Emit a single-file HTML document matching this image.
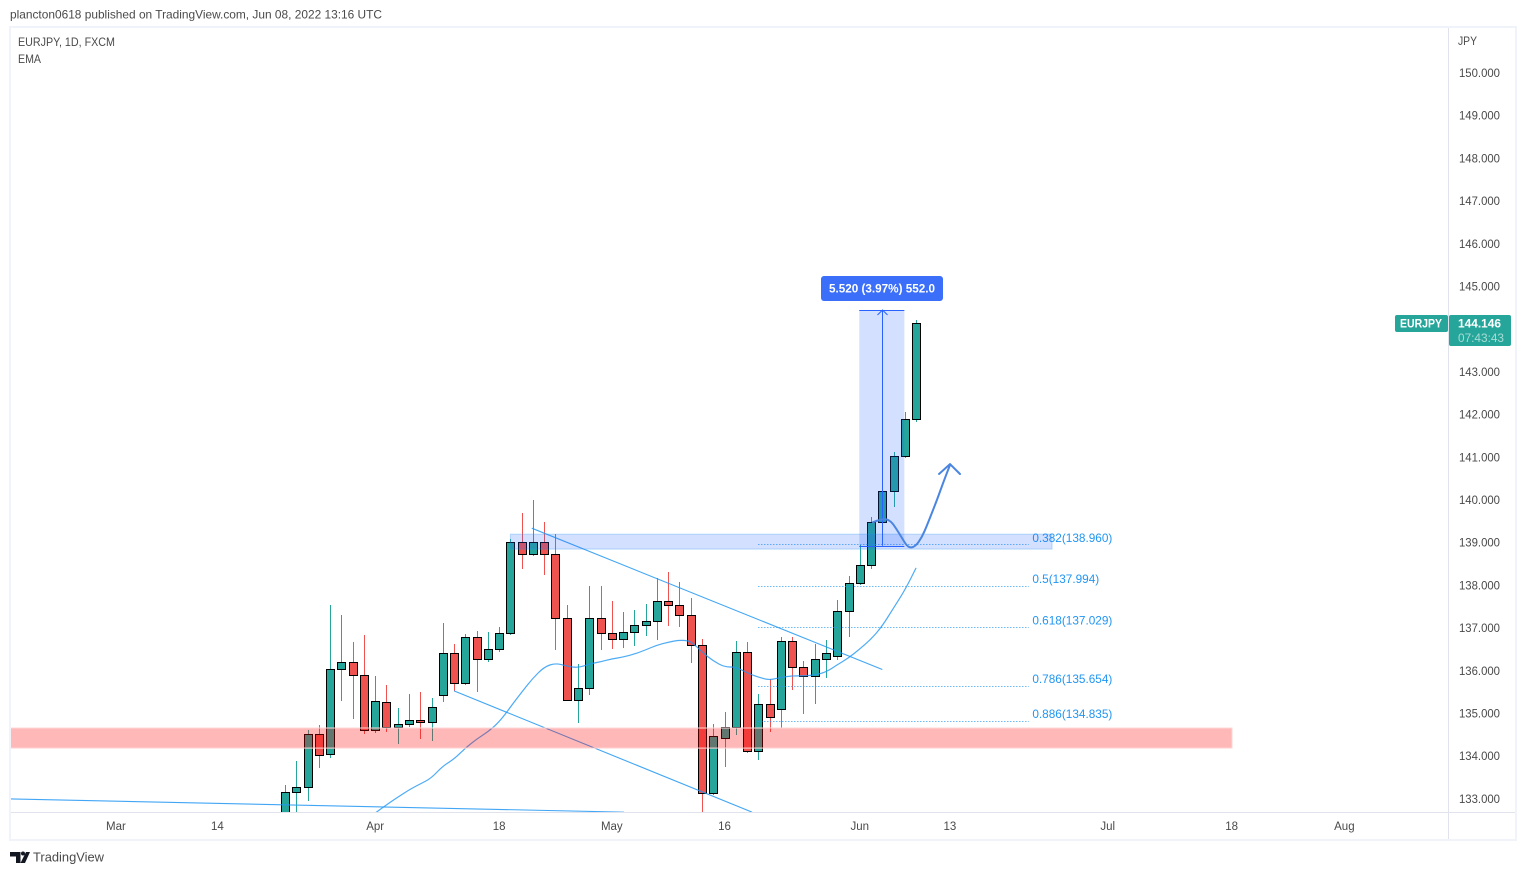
<!DOCTYPE html>
<html lang="en">
<head>
<meta charset="utf-8">
<title>EURJPY, 1D, FXCM</title>
<style>
html,body{margin:0;padding:0;background:#fff;width:1526px;height:875px;overflow:hidden}
svg{display:block;font-family:"Liberation Sans",sans-serif}
</style>
</head>
<body>
<svg id="chart" width="1526" height="875" viewBox="0 0 1526 875" xmlns="http://www.w3.org/2000/svg">
  <rect x="0" y="0" width="1526" height="875" fill="#ffffff"/>
  <text x="10" y="18.5" font-size="12" fill="#4a4a4a" textLength="372" lengthAdjust="spacingAndGlyphs">plancton0618 published on TradingView.com, Jun 08, 2022 13:16 UTC</text>
  <rect x="10" y="27" width="1506" height="813" fill="none" stroke="#f0f3fa" stroke-width="2"/>
  <defs>
    <clipPath id="plot-clip"><rect x="11" y="28" width="1437" height="784"/></clipPath>
  </defs>
  <g id="candles" clip-path="url(#plot-clip)"></g>
  <g id="drawings" clip-path="url(#plot-clip)"></g>
  <line x1="1448.5" y1="28" x2="1448.5" y2="839" stroke="#e0e3eb" stroke-width="1"/>
  <line x1="11" y1="812.5" x2="1515" y2="812.5" stroke="#e0e3eb" stroke-width="1"/>
  <g id="price-axis"></g>
  <g id="time-axis"></g>
  <text x="18" y="46" font-size="12" fill="#4a4a4a" textLength="97" lengthAdjust="spacingAndGlyphs">EURJPY, 1D, FXCM</text>
  <text x="18" y="63" font-size="12" fill="#4a4a4a" textLength="23" lengthAdjust="spacingAndGlyphs">EMA</text>
  <text x="1458" y="45" font-size="12" fill="#4a4a4a" textLength="19" lengthAdjust="spacingAndGlyphs">JPY</text>
  <g>
    <rect x="1395" y="315" width="53" height="17" rx="2" fill="#26a69a"/>
    <text x="1421" y="327.5" font-size="12" font-weight="bold" fill="#ffffff" text-anchor="middle" textLength="42" lengthAdjust="spacingAndGlyphs">EURJPY</text>
    <rect x="1449" y="315" width="62" height="31" rx="2" fill="#26a69a"/>
    <text x="1479.5" y="327.5" font-size="12" font-weight="bold" fill="#ffffff" text-anchor="middle" textLength="43" lengthAdjust="spacingAndGlyphs">144.146</text>
    <text x="1481" y="342" font-size="11.5" fill="#a8dcd6" text-anchor="middle" textLength="46" lengthAdjust="spacingAndGlyphs">07:43:43</text>
  </g>
  <g>
    <path d="M10 852h10.5v11h-4.500v-6.500h-6zM26 852h4l-5 11h-4.500z M21 853.500a2 2 0 1 0 4 0a2 2 0 1 0 -4 0z" fill="#131722"/>
    <text x="33" y="861.500" font-size="13" fill="#4a4a4a" textLength="71" lengthAdjust="spacingAndGlyphs">TradingView</text>
  </g>
</svg>
<script>
// ----- chart data -----
const dates = ["Mar 22","Mar 23","Mar 24","Mar 25","Mar 28","Mar 29","Mar 30","Mar 31","Apr 1","Apr 4","Apr 5","Apr 6","Apr 7","Apr 8","Apr 11","Apr 12","Apr 13","Apr 14","Apr 15","Apr 18","Apr 19","Apr 20","Apr 21","Apr 22","Apr 25","Apr 26","Apr 27","Apr 28","Apr 29","May 2","May 3","May 4","May 5","May 6","May 9","May 10","May 11","May 12","May 13","May 16","May 17","May 18","May 19","May 20","May 23","May 24","May 25","May 26","May 27","May 30","May 31","Jun 1","Jun 2","Jun 3","Jun 6","Jun 7","Jun 8"];
const opens = [132.55,133.15,133.28,134.52,134.05,136.04,136.21,135.90,134.61,135.27,134.68,134.75,134.85,134.80,135.43,136.42,135.71,136.79,136.28,136.51,136.89,139.02,138.74,139.02,138.74,137.24,135.32,135.60,137.24,136.89,136.74,136.91,137.07,137.17,137.63,137.54,137.31,136.60,133.14,134.43,134.68,136.44,134.12,135.22,135.11,136.70,136.09,135.88,136.28,136.35,137.40,138.06,138.48,139.49,140.21,141.03,141.90];
const highs = [133.33,133.89,134.61,134.73,137.54,137.31,136.67,136.84,135.88,135.67,135.13,135.46,135.50,135.36,137.12,136.63,136.86,136.93,136.91,137.03,139.09,139.70,140.00,139.49,139.20,137.54,136.16,137.99,137.99,137.63,137.38,137.42,137.56,138.17,138.31,138.08,137.70,136.74,134.75,135.04,136.70,136.67,135.46,135.81,136.79,136.79,136.23,136.63,136.72,137.66,138.22,138.95,139.60,140.28,141.12,142.06,144.22];
const lows = [132.27,132.51,132.95,133.72,133.96,135.29,134.87,134.52,134.54,134.57,134.29,134.68,134.40,134.36,135.27,135.53,135.67,135.50,136.21,136.44,136.84,138.38,138.69,138.24,136.49,135.32,134.78,135.43,136.49,136.51,136.53,136.58,136.82,136.72,137.05,137.03,136.18,132.69,133.09,133.75,134.50,134.08,133.91,134.57,134.66,135.55,134.99,135.22,135.83,136.25,136.79,138.01,138.38,139.41,139.84,140.98,141.83];
const closes = [133.16,133.27,134.52,134.03,136.04,136.21,135.90,134.61,135.29,134.68,134.75,134.85,134.80,135.15,136.42,135.71,136.79,136.28,136.51,136.89,139.02,138.74,139.02,138.74,137.24,135.32,135.60,137.24,136.89,136.74,136.91,137.07,137.17,137.63,137.54,137.31,136.60,133.14,134.47,134.68,136.44,134.12,135.22,134.92,136.70,136.09,135.88,136.28,136.42,137.40,138.06,138.48,139.49,140.21,141.03,141.90,144.146];
const emaStartIndex = 8;
const emaValues = [132.67,132.86,133.04,133.21,133.35,133.49,133.77,133.93,134.19,134.40,134.57,134.80,135.15,135.50,135.83,136.09,136.18,136.11,136.07,136.16,136.21,136.28,136.32,136.39,136.49,136.60,136.67,136.72,136.70,136.44,136.23,136.09,136.09,135.95,135.85,135.78,135.85,135.88,135.88,135.90,135.97,136.14,136.30,136.51,136.74,137.05,137.47,137.89,138.41];
const priceTicks = [150,149,148,147,146,145,144,143,142,141,140,139,138,137,136,135,134,133];
const timeTickLabels = ["Mar","14","Apr","18","May","16","Jun","13","Jul","18","Aug"];
const timeTickIndex = [-15,-6,8,19,29,39,51,59,73,84,94];
const fibRatios = ["0.382","0.5","0.618","0.786","0.886"];
const fibPrices = [138.960,137.994,137.029,135.654,134.835];
const fibStartIndex = 42;
const fibEndIndex = 66;
const trendStartIndex = [21.9,15,-24.4];
const trendStartPrice = [139.34,135.53,133.00];
const trendEndIndex = [53,41.44,30.08];
const trendEndPrice = [136.03,132.69,132.69];
const brushIndex = [52.17,52.97,53.68,54.21,54.75,55.28,55.9,56.52,56.97,57.85,58.39,59.01];
const brushPrice = [139.48,139.56,139.53,139.34,139.11,138.88,138.90,139.13,139.41,140.00,140.40,140.82];
const arrowHeadIndex = [58.03,59.01,59.89];
const arrowHeadPrice = [140.61,140.84,140.61];
const supportZone = {startIndex:-25, endIndex:84.03, top:134.66, bottom:134.19};
const resistanceZone = {startIndex:20, endIndex:68.06, top:139.20, bottom:138.85};
const measure = {startIndex:51, endIndex:55, top:144.45, bottom:138.93, midIndex:53, text:"5.520 (3.97%) 552.0"};

// ----- axis functions -----
const xScale = i => 285 + i * 11.27;
const yScale = p => 73 + (150 - p) * 42.7;

const NS = "http://www.w3.org/2000/svg";
function mk(tag, attrs, parent) {
  const el = document.createElementNS(NS, tag);
  for (const k in attrs) el.setAttribute(k, attrs[k]);
  parent.appendChild(el);
  return el;
}
const pts = (xs, ys) => xs.map((v, k) => xScale(v).toFixed(1) + "," + yScale(ys[k]).toFixed(1)).join(" ");
function smoothPath(xs, ys) {
  const px = xs.map(xScale), py = ys.map(yScale);
  let d = "M" + px[0].toFixed(1) + " " + py[0].toFixed(1);
  for (let k = 1; k < px.length - 1; k++) {
    const mx = (px[k] + px[k + 1]) / 2, my = (py[k] + py[k + 1]) / 2;
    d += " Q" + px[k].toFixed(1) + " " + py[k].toFixed(1) + " " + mx.toFixed(1) + " " + my.toFixed(1);
  }
  d += " L" + px[px.length - 1].toFixed(1) + " " + py[py.length - 1].toFixed(1);
  return d;
}

// ----- candles -----
const candleGroup = document.getElementById("candles");
dates.forEach((d, i) => {
  const up = closes[i] >= opens[i];
  const col = up ? "#26a69a" : "#ef5350";
  const c = Math.round(xScale(i));
  const g = mk("g", {"shape-rendering":"crispEdges"}, candleGroup);
  
  
  const hy = Math.round(yScale(highs[i]));
  const ly = Math.round(yScale(lows[i]));
  const wick = mk("rect", {x:c, y:hy, width:1, height:Math.max(1, ly - hy), fill:col}, g);
  
  
  const ty = Math.round(yScale(Math.max(opens[i], closes[i])));
  const by = Math.round(yScale(Math.min(opens[i], closes[i])));
  const body = mk("rect", {x:c - 3.5, y:ty + 0.5, width:8, height:Math.max(1, by - ty), fill:col, stroke:"#000000", "stroke-width":1}, g);
  
  
});

// ----- EMA and drawings -----
const dr = document.getElementById("drawings");

const emaXs = emaValues.map((v, k) => emaStartIndex + k);
const ema = mk("path", {d:smoothPath(emaXs, emaValues), fill:"none", stroke:"#2196f3", "stroke-width":1.2, "stroke-opacity":0.8}, dr);



trendStartIndex.forEach((v, k) => {
  const t = mk("line", {x1:xScale(v), y1:yScale(trendStartPrice[k]), x2:xScale(trendEndIndex[k]), y2:yScale(trendEndPrice[k]), stroke:"#2196f3", "stroke-width":1.1, "stroke-opacity":0.85}, dr);
  
  
});

fibPrices.forEach((p, k) => {
  const y = Math.round(yScale(p)) + 0.5;
  const l = mk("line", {x1:xScale(fibStartIndex), y1:y, x2:xScale(fibEndIndex), y2:y, stroke:"#2196f3", "stroke-width":1, "stroke-dasharray":"1 2"}, dr);
  
  
  const tx = mk("text", {x:xScale(fibEndIndex) + 3.5, y:yScale(p) - 2.5, "font-size":11.8, fill:"#2196f3"}, dr);
  
  
  tx.textContent = fibRatios[k] + "(" + p.toFixed(3) + ")";
});

const sz = mk("rect", {x:xScale(supportZone.startIndex), y:yScale(supportZone.top), width:xScale(supportZone.endIndex) - xScale(supportZone.startIndex), height:yScale(supportZone.bottom) - yScale(supportZone.top), fill:"#ff0000", "fill-opacity":0.28, stroke:"#ffd6d6", "stroke-width":1}, dr);



const rz = mk("rect", {x:xScale(resistanceZone.startIndex), y:yScale(resistanceZone.top), width:xScale(resistanceZone.endIndex) - xScale(resistanceZone.startIndex), height:yScale(resistanceZone.bottom) - yScale(resistanceZone.top), fill:"#2962ff", "fill-opacity":0.2, stroke:"#2196f3", "stroke-opacity":0.3, "stroke-width":1}, dr);



const mx1 = xScale(measure.startIndex) - 0.5, mx2 = xScale(measure.endIndex) - 0.5, my1 = yScale(measure.top), my2 = yScale(measure.bottom), mmx = Math.round(xScale(measure.midIndex)) + 0.5;
const mb = mk("rect", {x:mx1, y:my1, width:mx2 - mx1, height:my2 - my1, fill:"#2962ff", "fill-opacity":0.2}, dr);


const mt = mk("line", {x1:mx1, y1:Math.round(my1) + 0.5, x2:mx2, y2:Math.round(my1) + 0.5, stroke:"#2962ff", "stroke-width":1}, dr);


const mbt = mk("line", {x1:mx1, y1:Math.round(my2) + 0.5, x2:mx2, y2:Math.round(my2) + 0.5, stroke:"#2962ff", "stroke-width":1}, dr);


const ma = mk("line", {x1:mmx, y1:my2, x2:mmx, y2:my1, stroke:"#2962ff", "stroke-width":1}, dr);


const mh = mk("polyline", {points:(mmx - 5) + "," + (my1 + 5) + " " + mmx + "," + my1 + " " + (mmx + 5) + "," + (my1 + 5), fill:"none", stroke:"#2962ff", "stroke-width":1}, dr);



const brush = mk("path", {d:smoothPath(brushIndex, brushPrice), fill:"none", stroke:"#4a86e0", "stroke-width":2, "stroke-linejoin":"round", "stroke-linecap":"round"}, dr);


const head = mk("polyline", {points:pts(arrowHeadIndex, arrowHeadPrice), fill:"none", stroke:"#4a86e0", "stroke-width":2, "stroke-linejoin":"round", "stroke-linecap":"round"}, dr);



const lb = mk("rect", {x:mmx - 61.5, y:my1 - 34, width:122, height:25, rx:3, fill:"#3b6ff9"}, dr);


const lt = mk("text", {x:mmx - 0.5, y:my1 - 17.5, "font-size":12, "font-weight":"bold", fill:"#ffffff", "text-anchor":"middle", textLength:106, lengthAdjust:"spacingAndGlyphs"}, dr);


lt.textContent = measure.text;

// ----- axes -----
const pa = document.getElementById("price-axis");
priceTicks.forEach(p => {
  const t = mk("text", {x:1459, y:yScale(p) + 4, "font-size":12, fill:"#4a4a4a", textLength:41, lengthAdjust:"spacingAndGlyphs"}, pa);
  
  
  t.textContent = p.toFixed(3);
});
const ta = document.getElementById("time-axis");
timeTickLabels.forEach((s, k) => {
  const t = mk("text", {x:xScale(timeTickIndex[k]), y:830, "font-size":11.5, fill:"#4a4a4a", "text-anchor":"middle"}, ta);
  
  
  t.textContent = s;
});
</script>
</body>
</html>
